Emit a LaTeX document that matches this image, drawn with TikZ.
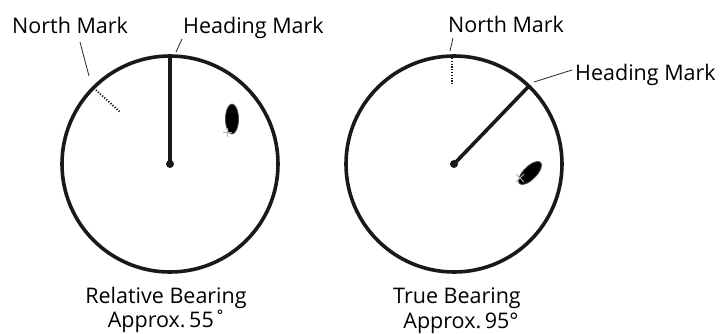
\documentclass[tikz,border=0pt]{standalone}
\usepackage{fontspec}
\setmainfont{Open Sans}
\begin{document}
\begin{tikzpicture}[x=1pt,y=-1pt]
\tikzset{
  scopering/.style={draw=black!90,line width=3.6pt},
  headline/.style={draw=black!90,line width=3.6pt},
  northmark/.style={draw=black!90,line width=1.8pt,dash pattern=on 1.2pt off 1.6pt},
  leader/.style={draw=black!85,line width=0.8pt},
  marklabel/.style={font=\fontsize{21.5}{26}\selectfont,inner sep=0pt,anchor=base west},
  captionlabel/.style={font=\fontsize{21.5}{26}\selectfont,inner sep=0pt,anchor=base},
  centerdot/.style={circle,fill=black!90,minimum size=8pt,inner sep=0pt},
  echo/.style={fill=black,draw=black!70,line width=0.8pt},
  cursor/.style={draw=black!30,line width=0.8pt}
}
\useasboundingbox (0,0) rectangle (722,334);

% relative bearing display
\coordinate (rel_c) at (170,164);
\coordinate (rel_h) at (170,56);
\coordinate (rel_n1) at (96,90);
\coordinate (rel_n2) at (120,112);
\draw[scopering] (rel_c) circle[radius=108pt];
\draw[headline] (rel_c) -- (rel_h);
\draw[northmark] (rel_n1) -- (rel_n2);
\node[centerdot] (rel_o) at (rel_c) {};
\fill[echo] (232,119) ellipse[x radius=6.5pt,y radius=15pt];
\draw[cursor] (223,132) -- (232,132) (227.5,127.5) -- (227.5,136.5);

\node[marklabel] (rel_north) at (12,34) {North Mark};
\node[marklabel] (rel_head) at (183,34) {Heading Mark};
\coordinate (rel_north_end) at (89,76);
\coordinate (rel_head_end) at (176,52);
\draw[leader] (80,42) -- (rel_north_end);
\draw[leader] (182,39) -- (rel_head_end);

\node[captionlabel] (rel_cap) at (166,303) {Relative Bearing};
\node[captionlabel] (rel_deg) at (167,327) {Approx.\,55˚};

% true bearing display
\coordinate (true_c) at (454,164);
\coordinate (true_h) at (529,86);
\coordinate (true_n1) at (452,58);
\coordinate (true_n2) at (452,86);
\draw[scopering] (true_c) circle[radius=108pt];
\draw[headline] (true_c) -- (true_h);
\draw[northmark] (true_n1) -- (true_n2);
\node[centerdot] (true_o) at (true_c) {};
\fill[echo,rotate around={-45:(530,173)}] (530,173) ellipse[x radius=6.5pt,y radius=15pt];
\draw[cursor] (516,174) -- (524,182) (516,182) -- (524,174);

\node[marklabel] (true_north) at (448,33) {North Mark};
\node[marklabel] (true_head) at (575,81) {Heading Mark};
\coordinate (true_north_end) at (450,51);
\coordinate (true_head_end) at (534,82);
\draw[leader] (453,38) -- (true_north_end);
\draw[leader] (572,70) -- (true_head_end);

\node[captionlabel] (true_cap) at (457,303) {True Bearing};
\node[captionlabel] (true_deg) at (461,328) {Approx.\,95°};
\end{tikzpicture}
\end{document}
